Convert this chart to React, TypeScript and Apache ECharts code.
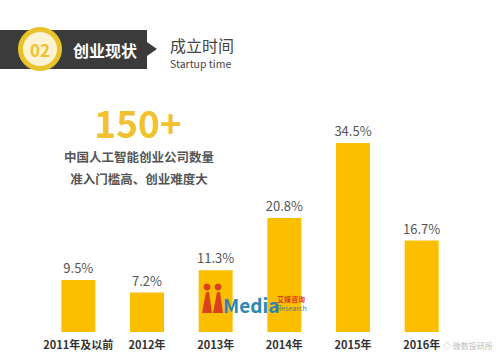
import React, { useEffect, useRef } from "react";
import * as echarts from "echarts";

const categories = ["2011年及以前", "2012年", "2013年", "2014年", "2015年", "2016年"];
const values = [9.5, 7.2, 11.3, 20.8, 34.5, 16.7];

const FONT = '"Noto Sans CJK SC", "Noto Sans", sans-serif';

export default function App() {
  const ref = useRef<HTMLDivElement>(null);
  useEffect(() => {
    if (!ref.current) return;
    const chart = echarts.init(ref.current, undefined, { renderer: "svg" });
    chart.setOption({
      animation: false,
      backgroundColor: "#ffffff",
      grid: { left: 44, top: 113, width: 412, height: 219 },
      xAxis: {
        type: "category",
        data: categories,
        axisLine: { show: false },
        axisTick: { show: false },
        axisLabel: { color: "#333", fontSize: 11, fontWeight: "bold", fontFamily: FONT, margin: 6, interval: 0 },
      },
      yAxis: { type: "value", min: 0, max: 40, show: false, splitLine: { show: false } },
      series: [
        {
          type: "bar",
          data: values,
          barWidth: 34,
          itemStyle: { color: "#FBBF00" },
          label: {
            show: true,
            position: "top",
            distance: 6,
            formatter: (p: any) => p.value + "%",
            color: "#555",
            fontSize: 13,
            fontFamily: FONT,
          },
          z: 2,
        },
      ],
      graphic: [
        // banner
        { type: "polygon", shape: { points: [[0, 30], [147, 30], [147, 42], [157, 49], [147, 56], [147, 69], [0, 69]] }, style: { fill: "#3b3b3b" } },
        { type: "circle", shape: { cx: 40, cy: 49, r: 22 }, style: { fill: "#e8c22a" } },
        { type: "circle", shape: { cx: 40, cy: 49, r: 17 }, style: { fill: "#fbf3d2" } },
        { type: "text", x: 40, y: 49, style: { text: "02", fill: "#efc22e", font: `bold 17px ${FONT}`, align: "center", verticalAlign: "middle" } },
        { type: "text", x: 73, y: 50, style: { text: "创业现状", fill: "#ffffff", font: `bold 16px ${FONT}`, verticalAlign: "middle" } },
        { type: "text", x: 170, y: 45, style: { text: "成立时间", fill: "#444", font: `16px ${FONT}`, verticalAlign: "middle" } },
        { type: "text", x: 170, y: 63, style: { text: "Startup time", fill: "#444", font: `10.5px ${FONT}`, verticalAlign: "middle" } },
        // big text
        { type: "text", x: 138, y: 122, style: { text: "150+", fill: "#F2C12E", font: `bold 37px ${FONT}`, align: "center", verticalAlign: "middle" } },
        { type: "text", x: 139, y: 156, style: { text: "中国人工智能创业公司数量", fill: "#555", font: `bold 12.5px ${FONT}`, align: "center", verticalAlign: "middle" } },
        { type: "text", x: 139, y: 178, style: { text: "准入门槛高、创业难度大", fill: "#555", font: `bold 12.5px ${FONT}`, align: "center", verticalAlign: "middle" } },
        // watermark logo
        { type: "circle", z: 10, shape: { cx: 207, cy: 287, r: 3.5 }, style: { fill: "#d9411e" } },
        { type: "circle", z: 10, shape: { cx: 218, cy: 287, r: 3.5 }, style: { fill: "#d9411e" } },
        { type: "polygon", z: 10, shape: { points: [[206, 292], [209, 292], [212, 313], [202, 313]] }, style: { fill: "#d9411e" } },
        { type: "polygon", z: 10, shape: { points: [[217, 292], [220, 292], [223, 313], [213, 313]] }, style: { fill: "#d9411e" } },
        { type: "text", z: 10, x: 223, y: 304, style: { text: "Media", fill: "#2a86b5", font: `bold 19px ${FONT}`, verticalAlign: "middle" } },
        { type: "text", z: 10, x: 277, y: 299, style: { text: "艾媒咨询", fill: "#d9411e", font: `bold 7px ${FONT}`, verticalAlign: "middle" } },
        { type: "text", z: 10, x: 277, y: 308, style: { text: "Research", fill: "#557a8c", font: `7px ${FONT}`, verticalAlign: "middle" } },
        // bottom-right watermark
        { type: "text", z: 10, x: 443, y: 341, style: { text: "◇ 微数投研所", fill: "#bbb", font: `8px ${FONT}` } },
      ],
    });
    return () => chart.dispose();
  }, []);
  return <div ref={ref} style={{ position: "fixed", left: 0, top: 0, width: 500, height: 352 }} />;
}
